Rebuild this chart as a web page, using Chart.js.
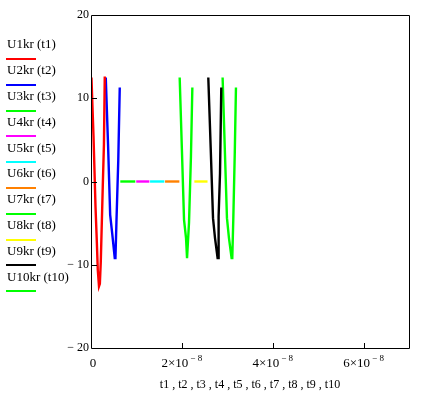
<!DOCTYPE html>
<html>
<head>
<meta charset="utf-8">
<script src="https://cdn.jsdelivr.net/npm/chart.js@4/dist/chart.umd.min.js"></script>
<style>
  html, body { margin: 0; padding: 0; background: #ffffff; }
  #wrap { width: 446px; height: 393px; }
</style>
</head>
<body>
<div id="wrap"><canvas id="c" width="446" height="393"></canvas></div>
<script>
// ---- Data (time in seconds, voltage) ----
const seriesNames = ['U1kr (t1)', 'U2kr (t2)', 'U3kr (t3)', 'U4kr (t4)', 'U5kr (t5)',
                     'U6kr (t6)', 'U7kr (t7)', 'U8kr (t8)', 'U9kr (t9)', 'U10kr (t10)'];
const seriesColors = ['#ff0000', '#0000ff', '#00ff00', '#ff00ff', '#00ffff',
                      '#ff8000', '#00ff00', '#ffff00', '#000000', '#00ff00'];

const t1 = [0.1e-9, 0.55e-9, 0.99e-9, 1.3e-9, 1.49e-9, 1.76e-9, 1.95e-9, 2.15e-9, 2.59e-9, 2.85e-9, 3.03e-9];
const u1 = [12.5, 5.5, -3.0, -7.5, -10.6, -12.6, -12.3, -9.7, -0.6, 4.5, 12.6];

const t2 = [3.25e-9, 3.75e-9, 4.22e-9, 4.66e-9, 5.23e-9, 5.38e-9, 5.6e-9, 6.0e-9, 6.33e-9];
const u2 = [12.5, 4.5, -4.0, -6.2, -9.2, -9.2, -4.9, 2.5, 11.3];

const t3 = [6.45e-9, 9.75e-9];
const u3 = [0, 0];

const t4 = [9.95e-9, 12.85e-9];
const u4 = [0, 0];

const t5 = [13.0e-9, 16.15e-9];
const u5 = [0, 0];

const t6 = [16.3e-9, 19.45e-9];
const u6 = [0, 0];

const t7 = [19.52e-9, 20.0e-9, 20.48e-9, 20.92e-9, 21.14e-9, 21.27e-9, 21.58e-9, 22.0e-9, 22.31e-9];
const u7 = [12.5, 4.0, -4.6, -6.8, -9.2, -9.2, -4.9, 3.0, 11.3];

const t8 = [22.75e-9, 25.65e-9];
const u8 = [0, 0];

const t9 = [25.82e-9, 26.35e-9, 26.86e-9, 27.3e-9, 27.87e-9, 27.96e-9, 28.09e-9, 28.4e-9, 28.68e-9];
const u9 = [12.5, 4.0, -4.4, -6.8, -9.2, -9.2, -4.2, 1.0, 11.3];

const t10 = [28.97e-9, 29.45e-9, 29.93e-9, 30.37e-9, 30.95e-9, 31.1e-9, 31.32e-9, 31.65e-9, 31.91e-9];
const u10 = [12.5, 4.0, -4.4, -6.8, -9.2, -9.2, -4.6, 3.5, 11.3];

const xTickValues = [0, 2e-8, 4e-8, 6e-8];
const xTickMantissa = ['0', '2×10', '4×10', '6×10'];
const xTickExponent = ['', '− 8', '− 8', '− 8'];
const yTickValues = [-20, -10, 0, 10, 20];
const yTickLabels = ['− 20', '− 10', '0', '10', '20'];
const xAxisTitle = 't1 , t2 , t3 , t4 , t5 , t6 , t7 , t8 , t9 , t10';

const allT = [t1, t2, t3, t4, t5, t6, t7, t8, t9, t10];
const allU = [u1, u2, u3, u4, u5, u6, u7, u8, u9, u10];

const datasets = allT.map((ts, i) => ({
  label: seriesNames[i],
  data: ts.map((t, j) => ({ x: t, y: allU[i][j] })),
  borderColor: seriesColors[i],
  backgroundColor: seriesColors[i],
  borderWidth: 2.4,
  pointRadius: 0,
  tension: 0,
  fill: false,
  showLine: true
}));

const SERIF = '"Liberation Serif", "Times New Roman", serif';

// Frame, inner tick marks, x tick labels with exponent, and left legend
const framePlugin = {
  id: 'frame',
  afterDraw(chart) {
    const ctx = chart.ctx;
    const a = chart.chartArea;
    const xs = chart.scales.x, ys = chart.scales.y;
    ctx.save();
    ctx.strokeStyle = '#000000';
    ctx.lineWidth = 1;
    ctx.beginPath();
    ctx.rect(a.left + 0.5, a.top + 0.5, a.right - a.left, a.bottom - a.top);
    ctx.stroke();
    ctx.beginPath();
    yTickValues.forEach(v => {
      if (v === ys.min || v === ys.max) return;
      const y = Math.round(ys.getPixelForValue(v)) + 0.5;
      ctx.moveTo(a.left, y); ctx.lineTo(a.left + 6, y);
    });
    xTickValues.forEach(v => {
      if (v === xs.min) return;
      const x = Math.round(xs.getPixelForValue(v)) + 0.5;
      ctx.moveTo(x, a.bottom); ctx.lineTo(x, a.bottom - 5);
    });
    ctx.stroke();

    // x tick labels: mantissa + raised exponent
    ctx.fillStyle = '#000000';
    ctx.textBaseline = 'alphabetic';
    ctx.textAlign = 'left';
    xTickValues.forEach((v, i) => {
      const cx = xs.getPixelForValue(v);
      ctx.font = '13px ' + SERIF;
      const mw = ctx.measureText(xTickMantissa[i]).width;
      ctx.font = '9px ' + SERIF;
      const ew = xTickExponent[i] ? ctx.measureText(xTickExponent[i]).width + 2 : 0;
      const total = mw + ew;
      const x0 = (i === 0) ? cx + 2 - mw / 2 : cx - total / 2;
      ctx.font = '13px ' + SERIF;
      ctx.fillText(xTickMantissa[i], x0, 367);
      if (xTickExponent[i]) {
        ctx.font = '9px ' + SERIF;
        ctx.fillText(xTickExponent[i], x0 + mw + 2, 361);
      }
    });

    // legend
    ctx.font = '13px ' + SERIF;
    ctx.textAlign = 'left';
    ctx.textBaseline = 'middle';
    seriesNames.forEach((name, i) => {
      const ty = 45 + i * 25.8;
      ctx.fillStyle = '#000000';
      ctx.fillText(name, 7, ty);
      ctx.fillStyle = seriesColors[i];
      ctx.fillRect(6, Math.round(ty + 13), 30, 2);
    });
    ctx.restore();
  }
};

new Chart(document.getElementById('c'), {
  type: 'line',
  data: { datasets },
  options: {
    responsive: false,
    animation: false,
    devicePixelRatio: 1,
    layout: { padding: { top: 15, right: 37, left: 0, bottom: 0 } },
    plugins: { legend: { display: false }, tooltip: { enabled: false } },
    elements: { line: { borderCapStyle: 'butt' } },
    scales: {
      x: {
        type: 'linear',
        min: 0,
        max: 7e-8,
        grid: { display: false, drawTicks: false },
        border: { display: false },
        afterBuildTicks: (s) => { s.ticks = xTickValues.map(v => ({ value: v })); },
        afterFit: (s) => { s.height = 45; },
        ticks: { display: false },
        title: {
          display: true,
          text: xAxisTitle,
          color: '#000000',
          font: { family: SERIF, size: 12 },
          padding: { top: 0, bottom: 1 }
        }
      },
      y: {
        type: 'linear',
        min: -20,
        max: 20,
        grid: { display: false, drawTicks: false },
        border: { display: false },
        afterBuildTicks: (s) => { s.ticks = yTickValues.map(v => ({ value: v })); },
        afterFit: (s) => { s.width = 91; },
        ticks: {
          color: '#000000',
          font: { family: SERIF, size: 12 },
          padding: 2,
          autoSkip: false,
          callback: (v) => { const k = yTickValues.indexOf(v); return k >= 0 ? yTickLabels[k] : ''; }
        }
      }
    }
  },
  plugins: [framePlugin]
});
</script>
</body>
</html>
